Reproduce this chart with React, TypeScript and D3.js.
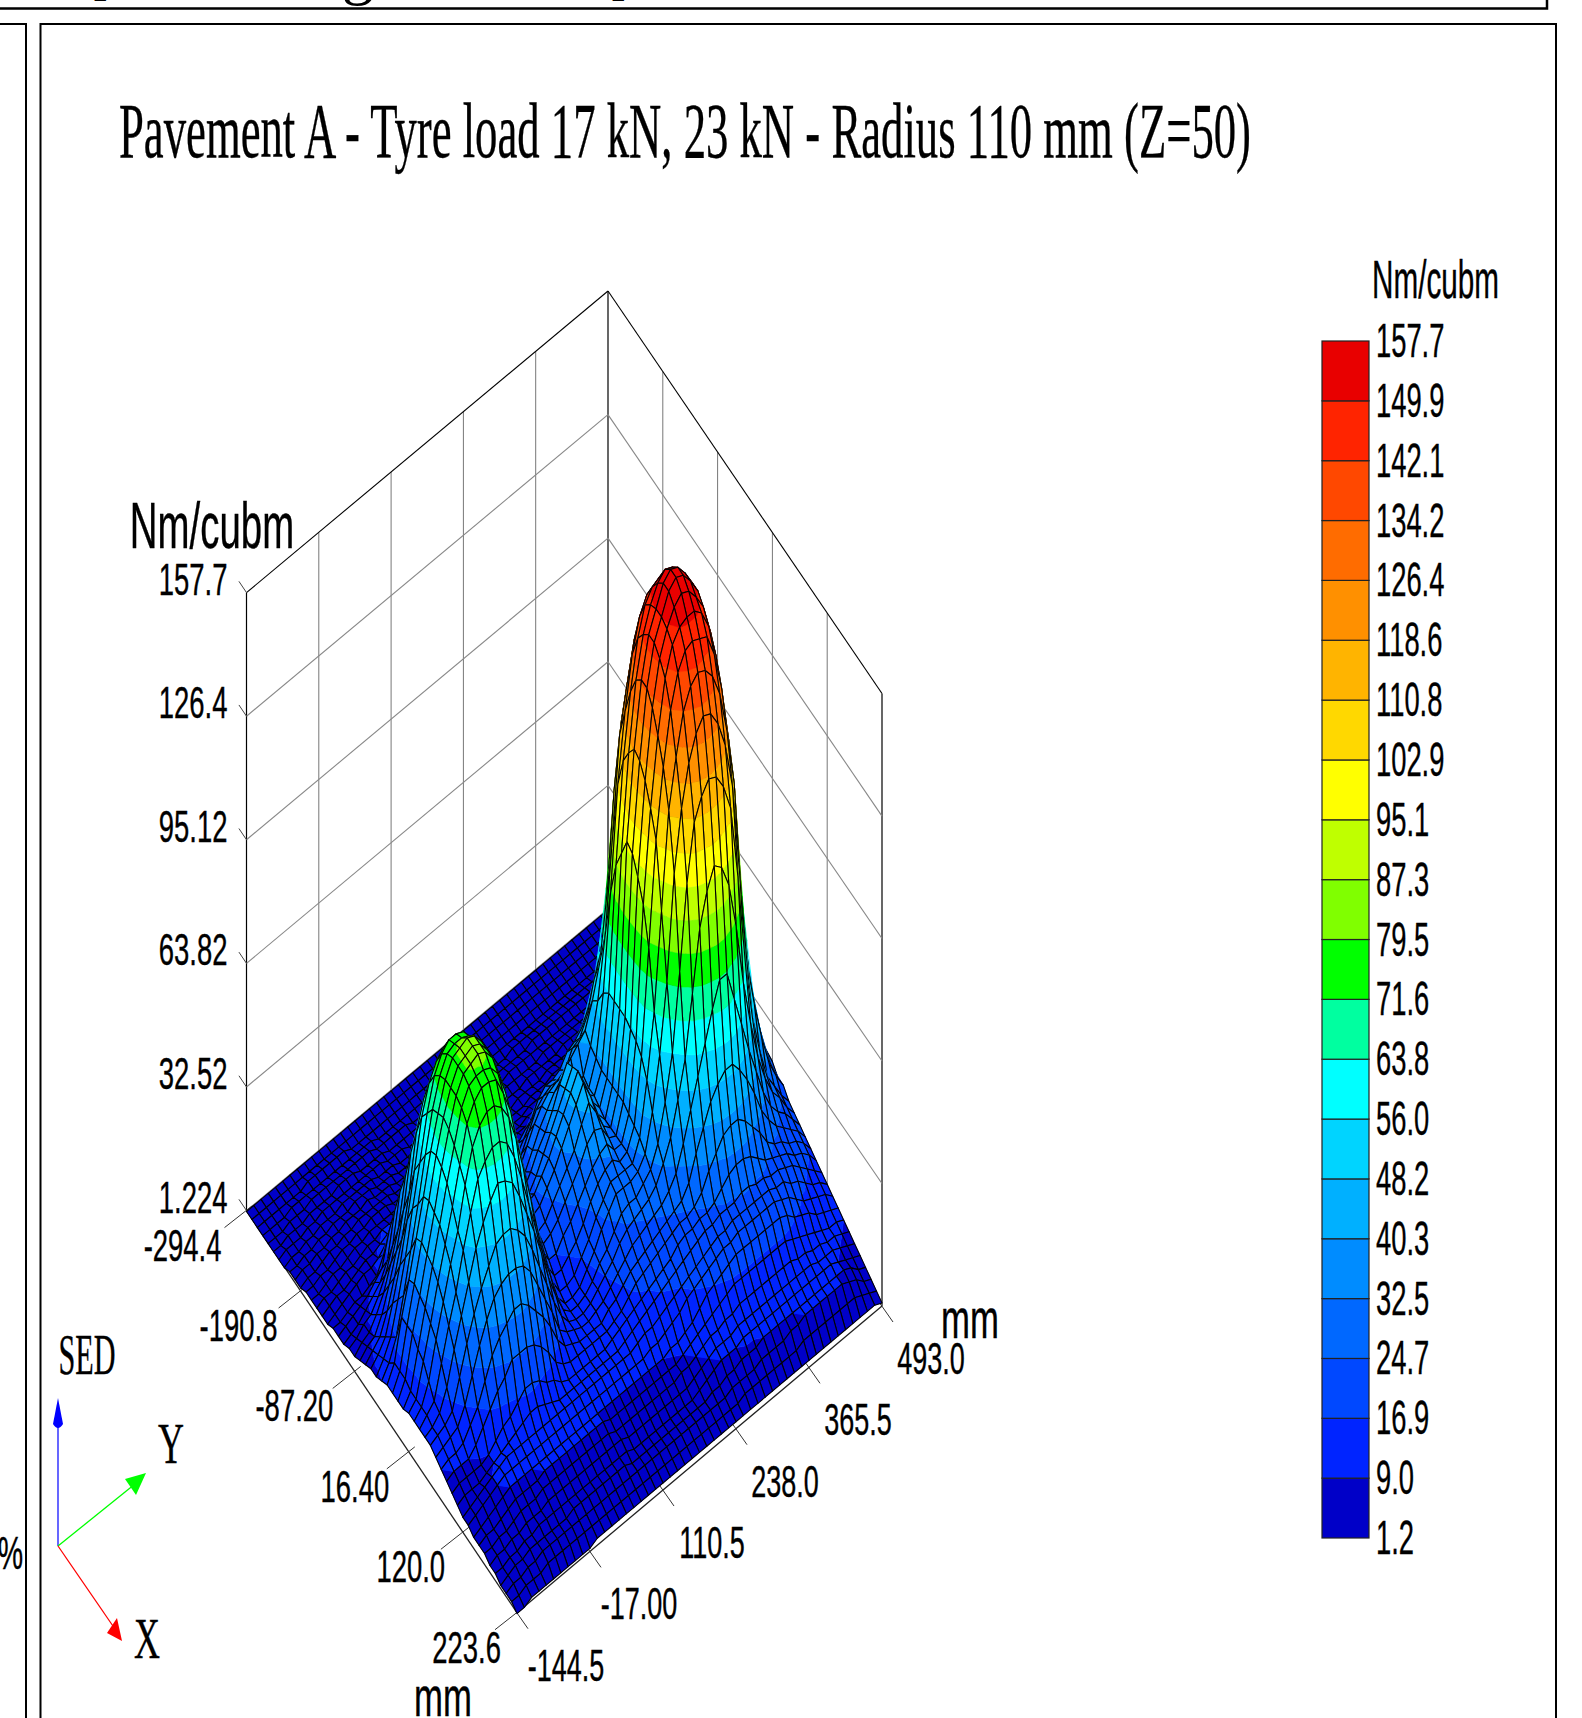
import React from 'react';
import * as d3 from 'd3';

const title = 'Pavement A - Tyre load 17 kN, 23 kN - Radius 110 mm (Z=50)';
const xTicks = [-294.4, -190.8, -87.2, 16.4, 120.0, 223.6];
const xTickLabels = ['-294.4', '-190.8', '-87.20', '16.40', '120.0', '223.6'];
const yTicks = [-144.5, -17.0, 110.5, 238.0, 365.5, 493.0];
const yTickLabels = ['-144.5', '-17.00', '110.5', '238.0', '365.5', '493.0'];
const zTicks = [1.224, 32.52, 63.82, 95.12, 126.4, 157.7];
const zTickLabels = ['1.224', '32.52', '63.82', '95.12', '126.4', '157.7'];
const legendLevels = [1.2, 9.0, 16.9, 24.7, 32.5, 40.3, 48.2, 56.0, 63.8, 71.6, 79.5, 87.3, 95.1, 102.9, 110.8, 118.6, 126.4, 134.2, 142.1, 149.9, 157.7];
const legendColors = ['#0000c8', '#0024ff', '#0048ff', '#0068ff', '#008cff', '#00b0ff', '#00d4ff', '#00ffff', '#00ffa0', '#00ff00', '#80ff00', '#bfff00', '#ffff00', '#ffd800', '#ffb400', '#ff9000', '#ff6c00', '#ff4800', '#ff2400', '#e80000'];

// SED heights, one row per x step, one column per y step
const sed = [
  [1,1,1,1,1,1,1,1,1,1,1,1,1,1,1,1,1,1,1,1,1,1,1,1,1,1,1,1,1,1,1,1,1,1,1,1,1,1,1,1,1,1,1,1,1,1,1,1,1,1,1],
  [1,1,1,1,1,1,1,1,1,1,1,1,1,1,1,1,1,1,1,1,1,1,1,1,1,1,1,1,1,1,1,1,1,1,1,1,1,1,1,1,1,1,1,1,1,1,1,1,1,1,1],
  [1,1,1,1,1,1,1,2,2,2,2,2,2,1,1,1,1,1,1,1,1,1,1,1,1,1,1,1,1,1,1,1,1,1,1,1,1,1,1,1,1,1,1,1,1,1,1,1,1,1,1],
  [1,1,1,1,2,2,2,2,2,2,2,2,2,2,2,2,1,1,1,1,1,1,1,1,1,1,1,1,1,1,1,1,1,1,1,1,1,1,1,1,1,1,1,1,1,1,1,1,1,1,1],
  [1,1,1,2,2,2,3,3,3,3,3,3,3,3,3,2,2,2,2,2,1,1,1,1,1,1,1,1,1,1,1,1,1,1,1,1,1,1,1,1,1,1,1,1,1,1,1,1,1,1,1],
  [1,1,2,2,2,3,3,3,3,4,4,4,3,3,3,3,2,2,2,2,2,1,1,1,1,1,1,1,1,1,1,1,1,2,2,2,2,2,2,2,2,2,2,2,2,2,2,2,2,1,1],
  [1,2,2,2,3,3,4,4,4,4,4,4,4,4,4,3,3,3,2,2,2,2,1,1,1,1,1,1,2,2,2,2,2,2,2,3,3,3,3,3,3,3,3,3,3,2,2,2,2,2,2],
  [1,2,2,3,3,4,4,4,5,5,5,5,5,4,4,4,3,3,3,2,2,2,2,2,1,1,2,2,2,2,2,3,3,3,3,3,3,3,3,3,3,3,3,3,3,3,3,2,2,2,2],
  [2,2,3,3,4,4,5,5,5,6,6,6,5,5,5,4,4,4,3,3,2,2,2,2,2,2,2,2,2,3,3,3,3,3,3,4,4,4,4,4,4,4,4,4,3,3,3,3,3,2,2],
  [2,3,3,4,4,5,5,6,6,6,7,6,6,6,5,5,4,4,4,3,3,3,2,2,2,2,2,3,3,3,3,3,4,4,4,4,4,5,5,5,5,5,4,4,4,4,4,3,3,3,2],
  [2,3,3,4,5,5,6,6,7,7,7,7,7,6,6,5,5,4,4,4,3,3,3,3,3,3,3,3,3,3,4,4,4,4,5,5,5,5,5,6,5,5,5,5,5,4,4,4,3,3,3],
  [3,3,4,4,5,6,6,7,7,8,8,8,7,7,6,6,5,5,4,4,4,3,3,3,3,3,4,4,4,4,4,5,5,5,6,6,6,6,6,6,6,6,6,6,5,5,5,4,4,4,3],
  [3,3,4,5,5,6,7,7,8,8,8,8,8,8,7,6,6,5,5,4,4,4,4,4,4,4,4,5,5,5,6,6,6,7,7,7,8,8,8,8,8,7,7,7,6,6,6,5,5,4,3],
  [3,4,4,5,6,6,7,8,8,9,9,9,9,8,8,7,6,6,5,5,5,5,5,5,5,5,6,6,6,7,7,7,8,8,9,9,9,9,10,10,10,9,9,9,8,8,7,6,6,5,4],
  [3,4,5,5,6,7,8,8,9,10,10,10,10,9,9,8,7,6,6,6,6,6,6,6,6,7,7,8,8,8,9,9,10,10,11,12,13,13,14,14,14,13,13,12,11,10,9,8,7,6,5],
  [3,4,5,6,7,8,8,9,11,12,14,14,13,12,10,9,8,7,7,7,7,7,7,8,8,8,9,9,10,11,11,12,13,14,15,16,17,18,18,18,18,18,17,16,15,14,12,10,9,7,6],
  [4,4,5,6,6,7,8,12,14,16,18,18,17,15,14,12,9,8,8,8,8,8,9,9,10,11,11,12,12,12,13,14,16,17,19,21,23,24,25,26,26,25,24,22,20,18,16,13,11,9,7],
  [4,5,6,7,8,10,12,20,22,25,26,26,25,22,19,15,13,10,9,9,9,10,11,12,13,13,14,14,14,15,16,17,20,23,28,32,37,42,46,48,48,45,41,36,30,25,22,19,16,14,12],
  [4,5,6,8,10,12,16,27,30,32,34,34,32,29,26,22,17,13,11,10,11,12,14,16,18,20,21,22,22,24,28,30,32,35,38,43,50,57,65,71,71,62,55,47,40,33,27,24,20,17,15],
  [5,6,8,9,12,16,22,34,38,40,41,41,40,37,32,27,22,16,13,11,12,13,15,18,21,24,28,30,30,31,34,35,37,41,48,55,68,84,93,98,96,90,78,62,50,40,32,26,22,19,16],
  [5,7,8,11,15,21,28,40,44,48,49,49,47,44,39,33,27,21,15,13,14,15,18,21,25,29,31,32,32,33,37,38,42,50,56,75,96,110,115,118,117,113,106,87,65,48,39,30,24,20,17],
  [6,8,9,13,19,26,35,48,53,57,60,59,57,52,46,40,33,25,20,16,17,18,21,25,29,32,34,35,36,38,40,42,48,56,72,97,113,123,129,132,131,127,120,108,84,57,45,34,26,22,18],
  [7,9,11,16,23,31,41,55,62,65,67,67,65,60,53,45,37,29,24,18,18,19,22,26,30,33,36,38,34,33,34,40,50,65,88,113,124,134,139,141,140,137,131,120,105,73,50,38,28,23,19],
  [8,10,13,20,28,38,49,61,68,72,74,74,72,68,61,52,43,33,27,20,20,21,24,28,31,35,40,44,38,34,33,39,54,78,104,121,134,142,146,147,146,145,139,129,114,90,60,43,31,24,20],
  [8,11,15,23,32,43,53,64,72,76,78,78,77,72,66,56,47,37,29,22,21,22,25,29,33,37,41,45,40,35,33,38,56,87,112,128,140,147,150,151,151,149,144,135,121,102,68,46,33,25,21],
  [9,12,17,26,36,46,57,67,74,78,79,79,78,74,68,60,50,38,31,23,23,24,27,30,34,38,42,46,41,35,32,38,56,92,116,133,143,149,153,155,154,151,147,139,125,106,75,48,35,26,21],
  [10,14,24,32,41,50,60,68,75,79,80,81,80,77,71,63,52,40,31,24,22,23,26,29,33,37,41,45,40,34,31,38,56,97,119,135,145,150,155,157,156,153,149,141,128,110,78,50,36,27,22],
  [10,14,24,33,42,51,61,69,75,79,80,81,80,77,72,64,53,41,31,23,20,21,24,27,30,33,38,42,38,33,31,38,56,96,118,135,145,150,155,157,156,153,149,141,128,110,78,50,36,27,22],
  [10,14,24,32,41,50,60,68,75,79,80,81,80,77,71,63,52,40,30,23,19,20,22,25,28,31,35,37,36,32,31,38,55,92,115,132,143,149,153,155,154,151,147,139,125,106,75,50,36,27,22],
  [10,13,22,31,40,49,58,66,74,78,79,79,78,75,69,60,50,38,30,21,17,17,20,22,25,28,31,33,34,31,31,37,54,87,110,127,140,147,150,151,151,149,144,135,121,102,70,50,36,27,22],
  [11,13,21,29,38,46,54,63,72,76,78,78,77,72,66,56,47,37,27,19,15,15,17,19,22,26,29,31,32,30,31,36,52,78,104,121,134,142,146,147,146,145,139,129,114,90,62,48,36,28,23],
  [11,13,18,27,35,43,50,60,68,72,74,74,72,68,61,52,43,33,25,17,13,13,14,17,20,24,27,30,30,30,30,35,48,64,88,112,124,134,139,141,140,137,131,120,105,75,54,42,32,26,21],
  [11,13,15,23,31,38,47,55,62,65,67,67,65,60,53,45,37,29,22,15,12,12,13,16,19,23,26,29,29,29,30,33,42,55,72,98,113,123,129,132,131,127,120,108,84,60,48,38,30,25,21],
  [11,12,14,19,27,34,41,48,53,57,60,59,57,52,46,40,33,25,19,14,12,12,13,15,18,20,23,26,27,27,29,31,36,45,56,75,96,110,115,118,117,113,106,87,64,48,38,30,26,22,19],
  [11,12,13,15,22,29,35,40,44,48,49,49,47,44,39,33,27,21,16,13,12,12,13,15,17,19,22,24,25,26,27,29,33,38,46,55,70,85,93,98,96,90,78,62,50,40,33,28,25,21,18],
  [10,11,12,13,17,23,29,34,38,40,41,41,40,37,32,27,22,16,14,13,12,12,13,14,16,18,20,22,23,24,25,26,28,31,37,44,51,58,65,71,71,63,55,47,40,33,28,25,23,20,17],
  [9,10,10,11,14,17,22,27,30,32,34,34,32,29,26,22,17,14,13,12,12,12,12,14,15,17,19,20,21,22,23,24,25,26,29,35,40,45,48,50,50,47,43,38,32,28,25,23,21,19,16],
  [8,9,9,9,11,14,17,20,22,25,25,25,24,22,19,15,13,12,12,12,12,12,12,13,14,16,18,19,20,21,22,23,24,24,25,27,31,34,37,38,38,36,33,30,26,24,23,21,20,18,15],
  [7,8,8,8,8,9,11,13,14,16,18,18,17,15,14,12,11,11,11,11,11,11,12,13,14,15,16,17,18,19,20,22,23,23,24,24,25,27,29,30,30,29,27,25,24,23,22,20,19,17,14],
  [6,7,7,7,8,9,10,11,12,13,14,14,13,12,11,11,11,11,11,11,11,11,11,12,13,14,15,16,17,18,19,20,21,22,23,23,24,24,24,25,25,24,24,23,23,22,21,19,17,15,13],
  [5,6,7,8,9,10,11,11,11,11,11,11,11,11,11,11,11,11,11,11,11,11,11,11,12,13,13,14,15,16,17,18,19,20,21,22,22,23,23,23,23,23,23,22,22,20,19,17,15,14,12],
  [5,6,7,8,9,10,10,10,10,10,10,10,10,10,10,10,10,10,10,10,10,10,10,10,10,11,11,12,13,14,16,17,18,19,20,21,21,22,22,22,22,22,22,21,20,18,16,15,14,13,11],
  [4,5,6,7,8,9,9,9,9,9,9,9,9,9,9,9,9,9,9,9,9,9,9,9,9,9,9,10,10,11,12,14,16,17,18,19,20,20,20,20,20,20,20,19,17,16,15,13,12,11,10],
  [4,5,5,6,7,8,8,8,8,9,9,9,9,9,9,9,9,9,8,8,8,8,8,8,8,8,8,8,9,10,11,12,13,14,15,16,16,16,16,16,16,16,16,15,14,13,12,11,10,10,9],
  [4,4,5,5,6,7,7,7,8,8,8,8,8,8,8,8,8,8,7,7,7,7,7,7,7,7,7,8,8,9,10,11,11,12,12,13,13,13,13,13,13,13,13,12,12,11,11,10,10,9,8],
  [3,4,4,5,5,6,6,6,7,7,7,7,7,7,7,7,7,7,7,6,6,6,6,6,6,6,6,6,7,8,9,10,10,10,11,11,11,11,11,11,11,11,11,11,11,10,10,10,9,8,7],
  [3,3,4,4,5,5,6,6,6,6,6,6,6,6,6,6,6,6,6,5,5,5,5,5,5,5,5,5,6,7,8,9,9,9,10,10,10,10,10,10,10,10,10,10,10,10,10,9,8,7,6],
  [2,3,4,4,5,5,5,5,5,5,6,6,6,6,6,6,6,6,5,5,5,5,5,5,5,5,5,5,5,6,6,7,7,8,8,8,9,9,9,9,9,9,9,9,9,9,9,9,8,6,5],
  [2,3,3,4,4,5,5,5,5,5,5,5,5,5,5,5,5,5,5,5,5,5,5,5,5,5,5,5,5,5,5,6,6,6,6,7,7,7,7,8,8,9,9,9,9,9,9,8,7,5,4],
  [2,2,3,3,3,4,4,4,4,4,4,4,4,4,4,4,4,4,4,4,4,4,4,4,4,4,4,4,4,4,4,4,5,5,5,5,5,5,5,5,6,6,6,6,6,6,6,6,5,4,3],
  [1,1,2,2,2,2,2,2,2,2,2,3,3,3,3,3,3,3,3,3,3,3,3,3,3,3,3,3,3,3,3,3,3,3,3,3,3,3,3,3,3,3,3,3,3,3,3,3,3,3,2],
];

const W = 1582;
const H = 1718;

// floor corners of the plot box
const cornerL = [246.5, 1210.6];
const cornerB = [517, 1612.7];
const cornerR = [882, 1306];
const cornerK = [608, 909];

const xScale = d3.scaleLinear().domain([-294.4, 223.6]).range([0, 1]);
const yScale = d3.scaleLinear().domain([-144.5, 493.0]).range([0, 1]);
const zScale = d3.scaleLinear().domain([1.224, 157.7]).range([0, 618]);
const rowScale = d3.scaleLinear().domain([0, sed.length - 1]).range([0, 1]);
const colScale = d3.scaleLinear().domain([0, sed[0].length - 1]).range([0, 1]);
const legendIdx = d3.scaleLinear().domain([0, legendColors.length]).range([1538, 341]);
const closedLine = d3.line().curve(d3.curveLinearClosed);

// u, v are 0..1 across the floor, z in data units
const project = (u: number, v: number, z: number): [number, number] => {
  const a = (1 - u) * (1 - v);
  const b = u * (1 - v);
  const c = u * v;
  const d = (1 - u) * v;
  const px = a * cornerL[0] + b * cornerB[0] + c * cornerR[0] + d * cornerK[0];
  const py = a * cornerL[1] + b * cornerB[1] + c * cornerR[1] + d * cornerK[1];
  return [px, py - zScale(z) * (1 - 0.009 * c)];
};

type V3 = [number, number, number];

// keep the part of a polygon on one side of a z level
const clipZ = (poly: V3[], level: number, keepAbove: boolean): V3[] => {
  const out: V3[] = [];
  poly.forEach((p, k) => {
    const q = poly[(k + 1) % poly.length];
    const pIn = keepAbove ? p[2] >= level : p[2] <= level;
    const qIn = keepAbove ? q[2] >= level : q[2] <= level;
    if (pIn) out.push(p);
    if (pIn !== qIn) {
      const t = (level - p[2]) / (q[2] - p[2]);
      out.push([p[0] + t * (q[0] - p[0]), p[1] + t * (q[1] - p[1]), level]);
    }
  });
  return out;
};

// filled contour bands of one mesh cell, as {colour, path}
const cellBands = (tris: V3[][]) => {
  const bands: { c: string; d: string }[] = [];
  legendColors.forEach((c, b) => {
    const lo = b === 0 ? -Infinity : legendLevels[b];
    const hi = b === legendColors.length - 1 ? Infinity : legendLevels[b + 1];
    let d = '';
    tris.forEach((tri) => {
      let poly = tri;
      if (lo > -Infinity) poly = clipZ(poly, lo, true);
      if (poly.length && hi < Infinity) poly = clipZ(poly, hi, false);
      if (poly.length > 2) d += closedLine(poly.map((p) => project(p[0], p[1], p[2])));
    });
    if (d) bands.push({ c, d });
  });
  return bands;
};

const Squeezed = ({ x, y, size, sx, anchor = 'start', family = '"Liberation Sans", Arial, sans-serif', children }: any) => (
  <text
    transform={`translate(${x},${y}) scale(${sx},1)`}
    fontFamily={family}
    fontSize={size}
    textAnchor={anchor}
    fill="#000"
    stroke="#000"
    strokeWidth={0.4}
  >
    {children}
  </text>
);

const serif = '"Liberation Serif", "Times New Roman", serif';

const seg = (p: number[], q: number[], stroke: string, w = 1, key?: string) => (
  <line key={key} x1={p[0]} y1={p[1]} x2={q[0]} y2={q[1]} stroke={stroke} strokeWidth={w} />
);

export default function App() {
  const zMax = zTicks[zTicks.length - 1];
  const cells: React.ReactNode[] = [];
  for (let i = 0; i < sed.length - 1; i++) {
    for (let j = sed[0].length - 2; j >= 0; j--) {
      const u0 = rowScale(i);
      const u1 = rowScale(i + 1);
      const v0 = colScale(j);
      const v1 = colScale(j + 1);
      const a: V3 = [u0, v0, sed[i][j]];
      const b: V3 = [u1, v0, sed[i + 1][j]];
      const c: V3 = [u1, v1, sed[i + 1][j + 1]];
      const e: V3 = [u0, v1, sed[i][j + 1]];
      const outline = closedLine([a, b, c, e].map((p) => project(p[0], p[1], p[2])));
      cells.push(
        <g key={`${i}-${j}`}>
          {cellBands([[a, b, c], [a, c, e]]).map((s) => (
            <path key={s.c} d={s.d} fill={s.c} stroke={s.c} strokeWidth={0.5} />
          ))}
          <path d={outline as string} fill="none" stroke="#000" strokeWidth={1.1} strokeLinejoin="round" />
        </g>
      );
    }
  }

  return (
    <svg width={W} height={H} viewBox={`0 0 ${W} ${H}`} style={{ position: 'absolute', left: 0, top: 0, display: 'block', background: '#fff' }}>
      {/* clipped text of the figure above */}
      <text x={50} y={-8} fontFamily={serif} fontSize={44} fontWeight="bold">1, p</text>
      <text x={342} y={-8} fontFamily={serif} fontSize={64}>g</text>
      <text x={612} y={-8} fontFamily={serif} fontSize={44} fontWeight="bold">p</text>

      {/* panel frames */}
      <path d="M0,8.5H1547V0" fill="none" stroke="#000" strokeWidth={2.5} />
      <path d="M0,24H26V1718" fill="none" stroke="#000" strokeWidth={2} />
      <path d="M40.5,1718V24H1556V1718" fill="none" stroke="#000" strokeWidth={2} />
      <Squeezed x={23} y={1569} size={46} sx={0.62} anchor="end">%</Squeezed>

      <text x={119} y={157} fontFamily={serif} fontSize={78} textLength={1132} lengthAdjust="spacingAndGlyphs" stroke="#000" strokeWidth={0.4}>{title}</text>

      {/* back walls */}
      {yTicks.map((t, k) => {
        const v = yScale(t);
        const edge = k === 0 || k === yTicks.length - 1;
        return seg(project(0, v, zTicks[0]), project(0, v, zMax), edge ? '#000' : '#777', edge ? 1.2 : 1, `wy${k}`);
      })}
      {xTicks.map((t, k) => {
        const u = xScale(t);
        if (k === 0) return null;
        const edge = k === xTicks.length - 1;
        return seg(project(u, 1, zTicks[0]), project(u, 1, zMax), edge ? '#000' : '#777', edge ? 1.2 : 1, `wx${k}`);
      })}
      {zTicks.map((t, k) => {
        const top = k === zTicks.length - 1;
        const s = top ? '#000' : '#888';
        return (
          <g key={`wz${k}`}>
            {seg(project(0, 0, t), project(0, 1, t), s, 1.1)}
            {seg(project(0, 1, t), project(1, 1, t), s, 1.1)}
            {seg(project(0, 0, t), project(-0.028, 0, t), '#444', 1)}
            <Squeezed x={project(0, 0, t)[0] - 19} y={project(0, 0, t)[1] + 2} size={45} sx={0.61} anchor="end">{zTickLabels[k]}</Squeezed>
          </g>
        );
      })}

      {/* floor axes */}
      {seg(project(0, 0, zTicks[0]), project(1, 0, zTicks[0]), '#222', 1.3)}
      {seg(project(1, 0, zTicks[0]), project(1, 1, zTicks[0]), '#222', 1.3)}
      {xTicks.map((t, k) => {
        const p = project(xScale(t), 0, zTicks[0]);
        return (
          <g key={`xt${k}`}>
            {seg([p[0] + 6, p[1] - 5], [p[0] - 22, p[1] + 17], '#333', 1)}
            <Squeezed x={p[0] - 25 + k * 1.8} y={p[1] + 50} size={45} sx={0.61} anchor="end">{xTickLabels[k]}</Squeezed>
          </g>
        );
      })}
      {yTicks.map((t, k) => {
        const p = project(1, yScale(t), zTicks[0]);
        return (
          <g key={`yt${k}`}>
            {seg([p[0] - 3, p[1] - 4], [p[0] + 11, p[1] + 16], '#333', 1)}
            <Squeezed x={p[0] + 49} y={p[1] + 68} size={45} sx={0.6} anchor="middle">{yTickLabels[k]}</Squeezed>
          </g>
        );
      })}

      {/* surface, painted from the far corner forward */}
      <g>{cells}</g>

      <Squeezed x={212} y={548} size={64} sx={0.6} anchor="middle">Nm/cubm</Squeezed>
      <Squeezed x={443} y={1716} size={56} sx={0.62} anchor="middle">mm</Squeezed>
      <Squeezed x={970} y={1338} size={56} sx={0.62} anchor="middle">mm</Squeezed>

      {/* colour legend */}
      {legendColors.map((c, k) => (
        <rect key={c} x={1322} width={47} y={legendIdx(k + 1)} height={legendIdx(k) - legendIdx(k + 1)} fill={c} stroke="#222" strokeWidth={1.2} />
      ))}
      {legendLevels.map((t, k) => (
        <Squeezed key={t} x={1376} y={legendIdx(k) + 16} size={48} sx={0.57}>{t.toFixed(1)}</Squeezed>
      ))}
      <Squeezed x={1372} y={298} size={54} sx={0.55}>Nm/cubm</Squeezed>

      {/* orientation triad */}
      <line x1={58} y1={1546} x2={58} y2={1410} stroke="#0000ff" strokeWidth={1.2} />
      <path d="M58,1398 L63,1424 Q58,1432 53,1424 Z" fill="#0000ff" />
      <line x1={58} y1={1546} x2={135} y2={1484} stroke="#00ff00" strokeWidth={1.3} />
      <path d="M146,1473 L125,1479 L136,1495 Z" fill="#00ff00" />
      <line x1={58} y1={1546} x2={115} y2={1629} stroke="#ff0000" strokeWidth={1.3} />
      <path d="M122,1641 L107,1633 L117,1618 Z" fill="#ff0000" />
      <Squeezed x={87} y={1374} size={58} sx={0.52} anchor="middle" family={serif}>SED</Squeezed>
      <Squeezed x={171} y={1463} size={58} sx={0.62} anchor="middle" family={serif}>Y</Squeezed>
      <Squeezed x={147} y={1658} size={58} sx={0.62} anchor="middle" family={serif}>X</Squeezed>
    </svg>
  );
}
